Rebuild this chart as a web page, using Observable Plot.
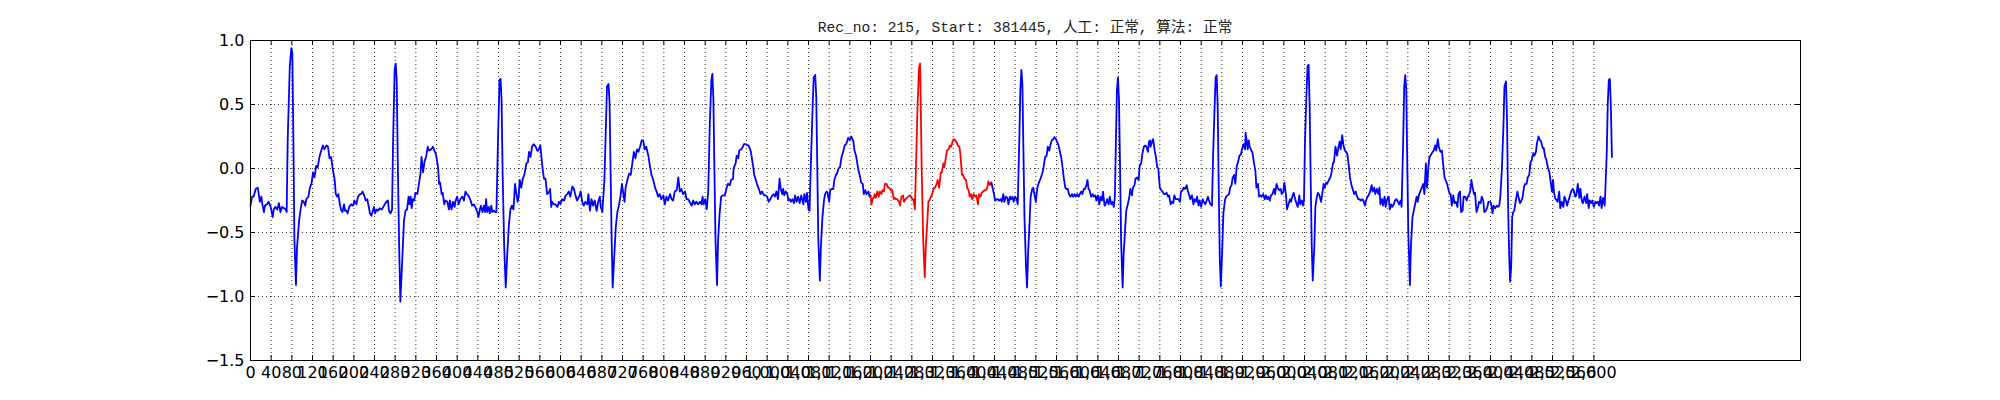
<!DOCTYPE html>
<html><head><meta charset="utf-8">
<script src="https://cdn.jsdelivr.net/npm/d3@7"></script>
<script src="https://cdn.jsdelivr.net/npm/@observablehq/plot@0.6"></script>
<style>
html,body{margin:0;padding:0;background:#fff;}
#wrap{position:relative;width:2000px;height:400px;}
#title{position:absolute;left:250px;width:1550px;top:21px;text-align:center;font-family:"Liberation Mono","Noto Sans CJK SC",monospace;font-size:14.6px;line-height:14.6px;color:#222;white-space:pre;}
</style></head><body>
<div id="wrap"><div id="title"></div><div id="chart"></div></div>
<script>
const titleText = "Rec_no: 215, Start: 381445, 人工: 正常, 算法: 正常";

// [sample index, amplitude]
const leadIn = [
[0,-0.29],[3,-0.22],[6,-0.22],[10,-0.16],[14,-0.15],[16,-0.20],[18,-0.26],[21,-0.22],[23,-0.28],[26,-0.34],
[28,-0.29],[32,-0.28],[35,-0.26],[39,-0.30],[43,-0.38],[45,-0.32],[48,-0.30],[52,-0.32],[55,-0.27],[58,-0.34],
[61,-0.30],[65,-0.31],[68,-0.32],[70,-0.34],[72,0.22],[76,0.79],[79,0.94],[81,0.90],[83,0.22],[85,-0.56],
[88,-0.91],[90,-0.62],[94,-0.41],[97,-0.32],[100,-0.25],[103,-0.26],[106,-0.29],[108,-0.24],[112,-0.22],[115,-0.15],
[118,-0.12],[121,-0.03],[124,-0.07],[127,0.02],[130,0.01],[134,0.10],[137,0.14],[140,0.18],[143,0.15],[147,0.18],
[150,0.17],[153,0.08],[156,0.09],[159,0.00],[163,-0.09],[165,-0.20],[168,-0.22],[170,-0.20],[173,-0.28],[175,-0.32],
[178,-0.34],[181,-0.28],[183,-0.33],[186,-0.33],[188,-0.35],[191,-0.30],[195,-0.28],[199,-0.29],[201,-0.25],[205,-0.28],
[208,-0.22],[212,-0.20],[214,-0.20],[217,-0.18],[220,-0.21],[223,-0.25],[226,-0.24],[229,-0.30],[231,-0.35],[234,-0.37],
[236,-0.34],[239,-0.30],[241,-0.35],[244,-0.32],[247,-0.33],[250,-0.31],[254,-0.32],[257,-0.30],[260,-0.28],[263,-0.26],
[266,-0.25],[268,-0.33],[271,-0.35],[274,-0.32],[276,0.22],[279,0.77],[281,0.82],[283,0.69],[285,0.06],[288,-0.67],
[290,-1.04],[294,-0.69],[297,-0.41],[300,-0.33],[303,-0.32],[306,-0.22],[308,-0.28],[310,-0.22],[312,-0.31],[314,-0.24],
[317,-0.25],[319,-0.19],[323,-0.20],[326,-0.12],[329,-0.04],[331,0.09],[334,-0.03],[337,0.06],[340,0.09],[343,0.17],
[346,0.14],[350,0.15],[353,0.17],[356,0.14],[359,0.11],[363,0.01],[365,-0.12],[367,-0.11],[370,-0.20],[372,-0.19],
[375,-0.28],[377,-0.25],[381,-0.26],[384,-0.32],[386,-0.25],[389,-0.32],[392,-0.26],[395,-0.30],[397,-0.25],[400,-0.22],
[403,-0.28],[406,-0.24],[410,-0.22],[413,-0.25],[416,-0.18],[419,-0.20],[423,-0.22],[426,-0.25],[429,-0.29],[432,-0.28],
[435,-0.30],[439,-0.34],[441,-0.38],[444,-0.32],[446,-0.29],[449,-0.34],[452,-0.29],[454,-0.34],[456,-0.24],[458,-0.34],
[461,-0.30],[463,-0.35],[466,-0.29],[468,-0.34],[471,-0.33],[474,-0.34],[476,-0.34],[479,0.22],[482,0.69],[484,0.70],
[486,0.53],[488,-0.04],[491,-0.61],[494,-0.93],[497,-0.67],[500,-0.45],[503,-0.32],[506,-0.29],[509,-0.32],[512,-0.12],
[514,-0.18],[517,-0.26],[519,-0.22],[521,-0.09],[524,-0.15],[527,-0.08],[530,-0.05],[534,0.04],[537,0.05],[539,0.13],
[542,0.09],[545,0.17],[548,0.19],[552,0.17],[555,0.14],[557,0.14],[561,0.18],[565,0.01],[568,-0.08],[571,-0.08],
[574,-0.20],[577,-0.19],[580,-0.16],[582,-0.30],[584,-0.26],[587,-0.28],[590,-0.28],[594,-0.30],[597,-0.26],[600,-0.28],
[603,-0.24],[607,-0.25],[610,-0.21],[613,-0.20],[616,-0.18],[619,-0.22],[623,-0.14],[626,-0.16],[629,-0.21],[632,-0.25],
[636,-0.22],[639,-0.18],[642,-0.26],[645,-0.29],[648,-0.26],[652,-0.28],[654,-0.20],[657,-0.33],[660,-0.24],[663,-0.29],
[666,-0.25],[670,-0.33],[673,-0.26],[676,-0.22],[678,-0.30],[681,-0.34],[685,-0.09],[688,0.35],[690,0.64],[693,0.66],
[695,0.51],[697,-0.04],[699,-0.56],[701,-0.93],[704,-0.69],[707,-0.46],[710,-0.34],[713,-0.29],[716,-0.22],[719,-0.12],
[721,-0.18],[724,-0.26],[726,-0.15],[730,-0.08],[733,-0.04],[736,-0.05],[739,0.04],[742,0.13],[745,0.08],[748,0.15],
[751,0.13],[754,0.17],[757,0.22],[760,0.22],[763,0.15],[766,0.17],[770,0.10],[773,0.02],[776,-0.05],[779,-0.08],
[783,-0.15],[786,-0.18],[789,-0.22],[792,-0.20],[795,-0.24],[799,-0.21],[802,-0.28],[805,-0.22],[808,-0.25],[812,-0.20],
[815,-0.24],[818,-0.25],[821,-0.18],[825,-0.17],[828,-0.07],[831,-0.18],[834,-0.16],[837,-0.20],[841,-0.18],[844,-0.24],
[847,-0.24],[850,-0.26],[854,-0.29],[857,-0.25],[860,-0.28],[863,-0.26],[866,-0.28],[870,-0.26],[873,-0.28],[875,-0.22],
[877,-0.28],[880,-0.24],[883,-0.32],[886,-0.17],[889,0.35],[892,0.69],[894,0.74],[896,0.53],[898,-0.04],[900,-0.56],
[903,-0.91],[905,-0.56],[908,-0.35],[911,-0.22],[914,-0.21],[918,-0.21],[921,-0.16],[924,-0.12],[928,-0.13],[930,-0.09],
[934,-0.08],[935,0.00],[939,0.04],[941,0.10],[944,0.08],[946,0.14],[950,0.15],[953,0.17],[955,0.19],[959,0.19],
[962,0.18],[964,0.18],[968,0.14],[970,0.09],[973,0.01],[975,-0.05],[978,-0.09],[981,-0.13],[984,-0.16],[987,-0.20],
[990,-0.18],[994,-0.21],[997,-0.21],[1000,-0.22],[1003,-0.26],[1006,-0.24],[1010,-0.21],[1013,-0.20],[1015,-0.22],[1018,-0.18],
[1021,-0.24],[1024,-0.08],[1026,-0.15],[1029,-0.20],[1031,-0.16],[1033,-0.21],[1036,-0.18],[1039,-0.20],[1041,-0.25],[1044,-0.24],
[1046,-0.26],[1049,-0.24],[1052,-0.27],[1054,-0.21],[1057,-0.26],[1060,-0.22],[1063,-0.27],[1066,-0.21],[1070,-0.28],[1072,-0.20],
[1075,-0.26],[1077,-0.19],[1080,-0.32],[1082,-0.33],[1084,-0.04],[1088,0.48],[1090,0.71],[1093,0.73],[1095,0.56],[1097,0.01],
[1099,-0.56],[1102,-0.875],[1104,-0.61],[1107,-0.38],[1110,-0.25],[1112,-0.20],[1115,-0.18],[1117,-0.19],[1120,-0.26],[1122,-0.17],
[1125,-0.16],[1128,-0.16],[1130,-0.09],[1133,-0.05],[1135,-0.04],[1138,0.00],[1141,0.01],[1144,0.09],[1147,0.13],[1150,0.18],
[1153,0.19],[1157,0.24],[1160,0.22],[1163,0.25],[1167,0.21],[1169,0.14],[1172,0.10],[1174,0.05],[1177,-0.02],[1179,-0.05],
[1182,-0.11],[1185,-0.12],[1187,-0.20],[1190,-0.17],[1192,-0.20],[1196,-0.18],[1198,-0.22],[1200,-0.21]
];

// the beat drawn in red
const labeledBeat = [
[1200,-0.21],[1202,-0.28],[1204,-0.24],[1207,-0.22],[1208,-0.20],[1210,-0.23],[1213,-0.18],[1216,-0.22],[1218,-0.18],[1221,-0.20],
[1223,-0.17],[1226,-0.18],[1228,-0.12],[1231,-0.12],[1234,-0.15],[1236,-0.15],[1239,-0.17],[1242,-0.17],[1245,-0.24],[1247,-0.23],
[1250,-0.24],[1252,-0.24],[1255,-0.26],[1257,-0.29],[1260,-0.22],[1263,-0.21],[1265,-0.26],[1268,-0.24],[1270,-0.23],[1273,-0.22],
[1276,-0.21],[1278,-0.22],[1281,-0.24],[1283,-0.24],[1286,-0.32],[1288,0.01],[1291,0.48],[1294,0.79],[1296,0.82],[1297,0.58],
[1299,0.01],[1302,-0.56],[1305,-0.85],[1307,-0.61],[1310,-0.41],[1312,-0.26],[1315,-0.24],[1317,-0.22],[1320,-0.19],[1323,-0.15],
[1325,-0.15],[1328,-0.12],[1330,-0.09],[1333,-0.15],[1336,-0.03],[1338,-0.03],[1341,0.04],[1343,0.01],[1346,0.09],[1348,0.14],
[1351,0.15],[1354,0.18],[1356,0.17],[1359,0.21],[1361,0.23],[1364,0.22],[1366,0.21],[1369,0.18],[1372,0.17],[1374,0.11],
[1377,-0.05],[1379,-0.05],[1382,-0.08],[1385,-0.09],[1387,-0.15],[1390,-0.17],[1392,-0.22],[1395,-0.20],[1397,-0.24],[1400,-0.20],
[1403,-0.22],[1405,-0.21],[1408,-0.28],[1410,-0.20],[1413,-0.22],[1415,-0.19],[1418,-0.18],[1421,-0.17],[1423,-0.17],[1426,-0.15],
[1428,-0.10],[1431,-0.13],[1434,-0.11]
];

const tail = [
[1434,-0.11],[1439,-0.20],[1441,-0.25],[1444,-0.24],[1446,-0.24],[1449,-0.25],[1452,-0.24],[1454,-0.26],[1457,-0.20],[1459,-0.26],
[1462,-0.22],[1465,-0.23],[1467,-0.28],[1470,-0.22],[1472,-0.24],[1475,-0.22],[1477,-0.26],[1480,-0.22],[1483,-0.24],[1485,-0.28],
[1488,0.22],[1490,0.61],[1492,0.77],[1494,0.66],[1496,0.14],[1498,-0.38],[1501,-0.77],[1503,-0.93],[1505,-0.67],[1508,-0.41],
[1510,-0.22],[1513,-0.16],[1515,-0.15],[1518,-0.22],[1520,-0.26],[1523,-0.15],[1525,-0.12],[1528,-0.09],[1530,-0.07],[1533,-0.03],
[1535,0.01],[1538,0.09],[1541,0.10],[1543,0.17],[1546,0.14],[1548,0.18],[1551,0.22],[1554,0.23],[1556,0.245],[1559,0.23],
[1561,0.21],[1564,0.18],[1566,0.14],[1569,0.09],[1572,0.00],[1574,-0.07],[1577,-0.15],[1579,-0.16],[1582,-0.16],[1584,-0.20],
[1587,-0.22],[1590,-0.20],[1592,-0.22],[1595,-0.20],[1597,-0.22],[1600,-0.20],[1603,-0.22],[1605,-0.20],[1608,-0.18],[1610,-0.20],
[1613,-0.16],[1615,-0.16],[1618,-0.13],[1620,-0.09],[1622,-0.16],[1624,-0.17],[1627,-0.22],[1630,-0.20],[1632,-0.22],[1635,-0.21],
[1637,-0.25],[1640,-0.21],[1643,-0.28],[1645,-0.22],[1648,-0.25],[1650,-0.18],[1653,-0.29],[1655,-0.28],[1658,-0.24],[1661,-0.28],
[1663,-0.22],[1666,-0.28],[1668,-0.26],[1671,-0.30],[1673,-0.22],[1675,0.22],[1677,0.61],[1679,0.71],[1681,0.53],[1683,0.01],
[1685,-0.56],[1688,-0.93],[1690,-0.67],[1693,-0.46],[1695,-0.33],[1698,-0.28],[1701,-0.22],[1703,-0.16],[1706,-0.21],[1708,-0.15],
[1711,-0.13],[1713,-0.08],[1716,-0.07],[1719,-0.09],[1721,0.02],[1724,0.04],[1726,0.11],[1729,0.17],[1732,0.18],[1734,0.17],
[1737,0.13],[1739,0.21],[1741,0.22],[1742,0.17],[1745,0.21],[1747,0.23],[1750,0.14],[1752,0.10],[1755,0.01],[1757,0.00],
[1760,-0.15],[1763,-0.17],[1765,-0.18],[1768,-0.20],[1770,-0.20],[1773,-0.19],[1776,-0.22],[1778,-0.21],[1781,-0.28],[1783,-0.26],
[1786,-0.27],[1788,-0.21],[1791,-0.24],[1794,-0.24],[1796,-0.24],[1799,-0.26],[1801,-0.18],[1804,-0.17],[1806,-0.15],[1809,-0.16],
[1812,-0.13],[1814,-0.17],[1817,-0.21],[1819,-0.24],[1822,-0.21],[1825,-0.28],[1827,-0.24],[1830,-0.26],[1832,-0.22],[1835,-0.29],
[1837,-0.25],[1840,-0.30],[1843,-0.24],[1845,-0.26],[1848,-0.28],[1850,-0.26],[1853,-0.22],[1856,-0.26],[1858,-0.28],[1861,-0.29],
[1863,0.09],[1866,0.48],[1868,0.71],[1870,0.73],[1872,0.48],[1874,-0.15],[1876,-0.69],[1878,-0.92],[1881,-0.61],[1883,-0.35],
[1886,-0.25],[1888,-0.22],[1891,-0.21],[1894,-0.20],[1896,-0.15],[1899,-0.13],[1901,-0.07],[1904,-0.05],[1906,-0.12],[1909,0.02],
[1912,0.06],[1914,0.10],[1917,0.11],[1919,0.15],[1922,0.19],[1925,0.15],[1926,0.28],[1928,0.22],[1930,0.15],[1932,0.22],
[1934,0.17],[1937,0.14],[1939,0.13],[1942,0.05],[1945,-0.02],[1947,-0.15],[1950,-0.12],[1952,-0.22],[1955,-0.21],[1957,-0.22],
[1960,-0.20],[1963,-0.24],[1965,-0.21],[1968,-0.24],[1970,-0.22],[1973,-0.25],[1975,-0.21],[1978,-0.20],[1981,-0.16],[1983,-0.20],
[1986,-0.12],[1988,-0.15],[1991,-0.17],[1994,-0.16],[1996,-0.20],[1999,-0.18],[2001,-0.11],[2004,-0.20],[2006,-0.32],[2009,-0.28],
[2012,-0.24],[2014,-0.26],[2017,-0.21],[2019,-0.19],[2022,-0.24],[2025,-0.28],[2027,-0.30],[2030,-0.21],[2032,-0.28],[2035,-0.25],
[2037,-0.29],[2039,-0.25],[2041,0.22],[2044,0.61],[2046,0.80],[2048,0.81],[2050,0.48],[2052,-0.09],[2054,-0.61],[2056,-0.875],
[2059,-0.61],[2061,-0.30],[2064,-0.22],[2066,-0.19],[2069,-0.21],[2072,-0.26],[2074,-0.21],[2077,-0.12],[2079,-0.15],[2082,-0.11],
[2084,-0.12],[2087,-0.09],[2090,-0.07],[2092,-0.04],[2095,0.04],[2097,0.05],[2100,0.17],[2103,0.10],[2105,0.15],[2108,0.21],
[2110,0.15],[2113,0.26],[2115,0.19],[2118,0.14],[2121,0.13],[2123,0.11],[2126,0.01],[2128,-0.07],[2131,-0.13],[2134,-0.17],
[2136,-0.20],[2139,-0.18],[2141,-0.21],[2144,-0.24],[2146,-0.24],[2149,-0.25],[2152,-0.24],[2154,-0.25],[2157,-0.29],[2159,-0.25],
[2162,-0.22],[2164,-0.21],[2167,-0.18],[2170,-0.13],[2172,-0.18],[2175,-0.15],[2177,-0.20],[2180,-0.16],[2183,-0.20],[2185,-0.15],
[2187,-0.28],[2190,-0.24],[2192,-0.29],[2195,-0.22],[2197,-0.30],[2200,-0.24],[2203,-0.22],[2205,-0.32],[2208,-0.28],[2210,-0.30],
[2213,-0.28],[2215,-0.25],[2218,-0.24],[2221,-0.26],[2223,-0.28],[2226,-0.25],[2228,-0.30],[2231,0.22],[2233,0.64],[2235,0.73],
[2237,0.61],[2239,0.01],[2241,-0.51],[2244,-0.91],[2246,-0.61],[2249,-0.38],[2252,-0.32],[2254,-0.28],[2257,-0.22],[2259,-0.26],
[2262,-0.20],[2264,-0.18],[2267,-0.15],[2270,-0.12],[2272,-0.20],[2275,0.04],[2277,-0.15],[2280,0.02],[2282,0.09],[2285,0.11],
[2288,0.13],[2290,0.14],[2293,0.18],[2295,0.14],[2298,0.23],[2300,0.17],[2303,0.13],[2306,0.14],[2308,0.05],[2311,-0.07],
[2313,-0.09],[2316,-0.12],[2319,-0.17],[2321,-0.20],[2323,-0.20],[2325,-0.29],[2328,-0.21],[2330,-0.27],[2333,-0.26],[2336,-0.30],
[2338,-0.20],[2341,-0.18],[2343,-0.34],[2346,-0.33],[2348,-0.22],[2351,-0.22],[2354,-0.25],[2356,-0.22],[2359,-0.20],[2361,-0.17],
[2363,-0.09],[2365,-0.14],[2368,-0.20],[2370,-0.19],[2373,-0.34],[2376,-0.30],[2378,-0.26],[2381,-0.27],[2383,-0.22],[2386,-0.25],
[2388,-0.34],[2391,-0.33],[2394,-0.30],[2396,-0.26],[2399,-0.26],[2401,-0.27],[2404,-0.35],[2406,-0.29],[2409,-0.31],[2412,-0.29],
[2414,-0.30],[2417,-0.29],[2419,-0.22],[2422,-0.01],[2425,0.33],[2427,0.64],[2430,0.68],[2432,0.38],[2434,-0.27],[2436,-0.66],
[2438,-0.885],[2440,-0.77],[2442,-0.38],[2444,-0.34],[2446,-0.33],[2449,-0.25],[2452,-0.18],[2454,-0.22],[2457,-0.27],[2459,-0.26],
[2462,-0.23],[2465,-0.14],[2467,-0.12],[2470,-0.12],[2472,-0.07],[2475,-0.05],[2477,0.04],[2480,0.07],[2483,0.12],[2485,0.10],
[2488,0.13],[2490,0.20],[2493,0.25],[2496,0.22],[2498,0.21],[2501,0.16],[2503,0.16],[2506,0.09],[2508,0.07],[2511,0.01],
[2514,-0.03],[2516,-0.09],[2519,-0.18],[2521,-0.09],[2523,-0.19],[2525,-0.23],[2528,-0.25],[2530,-0.26],[2533,-0.18],[2535,-0.31],
[2538,-0.26],[2541,-0.30],[2543,-0.22],[2546,-0.25],[2548,-0.29],[2551,-0.25],[2554,-0.21],[2556,-0.18],[2559,-0.16],[2561,-0.17],
[2564,-0.22],[2566,-0.21],[2569,-0.12],[2572,-0.23],[2574,-0.16],[2577,-0.26],[2579,-0.27],[2582,-0.22],[2585,-0.27],[2587,-0.20],
[2590,-0.31],[2592,-0.25],[2595,-0.27],[2597,-0.25],[2600,-0.30],[2603,-0.26],[2605,-0.27],[2608,-0.26],[2610,-0.29],[2613,-0.22],
[2615,-0.31],[2618,-0.23],[2621,-0.29],[2622,-0.20],[2625,0.12],[2627,0.51],[2629,0.69],[2631,0.70],[2633,0.48],[2635,0.09]
];

const xTicks = d3.range(0, 2601, 40);
const yTicks = [-1.5, -1.0, -0.5, 0.0, 0.5, 1.0];
const xDomain = [0, 3000];
const yDomain = [-1.5, 1.0];

document.getElementById("title").textContent = titleText;

const W = 2000, H = 400, mL = 250, mR = 200, mT = 40, mB = 40;
const innerW = W - mL - mR, innerH = H - mT - mB, tickLen = 5;
const fmt = d => d.toFixed(1).replace("-", "\u2212");
const gridStyle = {stroke: "#000", strokeOpacity: 0.8, strokeWidth: 1, strokeDasharray: "1,3"};
const lw = 1.8;

const chart = Plot.plot({
  width: W, height: H,
  marginLeft: mL, marginRight: mR, marginTop: mT, marginBottom: mB,
  style: {fontFamily: "DejaVu Sans", fontSize: "16px", background: "#fff", color: "#000"},
  x: {domain: xDomain, label: null},
  y: {domain: yDomain, label: null},
  marks: [
    Plot.gridX(xTicks, gridStyle),
    Plot.gridY(yTicks, gridStyle),
    Plot.line(leadIn, {x: d => d[0], y: d => d[1], stroke: "#0000ff", strokeWidth: lw}),
    Plot.line(labeledBeat, {x: d => d[0], y: d => d[1], stroke: "#ff0000", strokeWidth: lw}),
    Plot.line(tail, {x: d => d[0], y: d => d[1], stroke: "#0000ff", strokeWidth: lw}),
    Plot.frame({stroke: "#000", strokeWidth: 1}),
    Plot.tickX(xTicks, {x: d => d, insetTop: innerH - tickLen, stroke: "#000"}),
    Plot.tickX(xTicks, {x: d => d, insetBottom: innerH - tickLen, stroke: "#000"}),
    Plot.tickY(yTicks, {y: d => d, insetRight: innerW - tickLen, stroke: "#000"}),
    Plot.tickY(yTicks, {y: d => d, insetLeft: innerW - tickLen, stroke: "#000"}),
    Plot.axisX(xTicks, {tickSize: 0, tickPadding: 6, fontSize: 16, label: null}),
    Plot.axisY(yTicks, {tickSize: 0, tickPadding: 6, fontSize: 16, label: null, tickFormat: fmt})
  ]
});
document.getElementById("chart").appendChild(chart);
</script>
</body></html>
